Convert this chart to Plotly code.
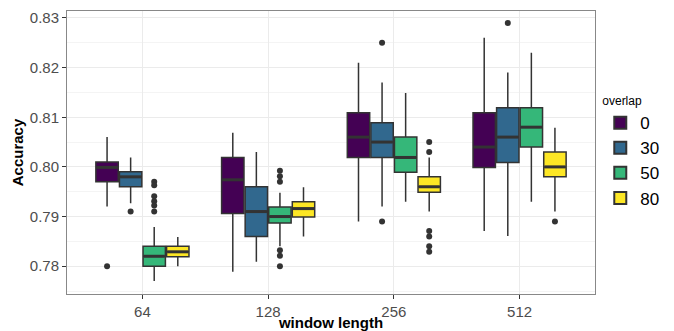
import plotly.graph_objects as go

groups = ["64", "128", "256", "512"]
overlaps = ["0", "30", "50", "80"]
colors = ["#440154", "#31688E", "#35B779", "#FDE725"]

# per overlap: values for groups 64,128,256,512
q1 = {
    "0":  [0.7970, 0.7906, 0.8019, 0.7999],
    "30": [0.7960, 0.7860, 0.8019, 0.8009],
    "50": [0.7800, 0.7887, 0.7989, 0.8040],
    "80": [0.7819, 0.7899, 0.7949, 0.7980],
}
median = {
    "0":  [0.7999, 0.7974, 0.8060, 0.8040],
    "30": [0.7980, 0.7910, 0.8050, 0.8060],
    "50": [0.7820, 0.7900, 0.8019, 0.8080],
    "80": [0.7829, 0.7916, 0.7960, 0.8000],
}
q3 = {
    "0":  [0.8010, 0.8019, 0.8109, 0.8109],
    "30": [0.7990, 0.7960, 0.8089, 0.8119],
    "50": [0.7840, 0.7919, 0.8060, 0.8119],
    "80": [0.7840, 0.7930, 0.7980, 0.8030],
}
lower = {
    "0":  [0.7920, 0.7789, 0.7890, 0.7871],
    "30": [0.7927, 0.7809, 0.7920, 0.7861],
    "50": [0.7770, 0.7840, 0.7930, 0.7930],
    "80": [0.7800, 0.7860, 0.7910, 0.7910],
}
upper = {
    "0":  [0.8060, 0.8069, 0.8210, 0.8260],
    "30": [0.8019, 0.8030, 0.8170, 0.8190],
    "50": [0.7879, 0.7948, 0.8149, 0.8230],
    "80": [0.7859, 0.7959, 0.8019, 0.8079],
}
# outliers: (group, overlap) -> values
outliers = {
    ("64", "0"): [0.780],
    ("64", "30"): [0.791],
    ("64", "50"): [0.7970, 0.7963, 0.7941, 0.7931, 0.7922, 0.7910],
    ("128", "50"): [0.7992, 0.7981, 0.7970, 0.7832, 0.7821, 0.7800],
    ("256", "30"): [0.825, 0.789],
    ("256", "80"): [0.805, 0.803, 0.7871, 0.7860, 0.7840, 0.7829],
    ("512", "30"): [0.829],
    ("512", "80"): [0.789],
}

dodge = 0.75
n = len(overlaps)
bw = dodge / n
box_w = bw * 0.95

fig = go.Figure()
for j, ov in enumerate(overlaps):
    off = (j - (n - 1) / 2) * bw
    xs = [i + 1 + off for i in range(len(groups))]
    fig.add_trace(go.Box(
        x=xs, q1=q1[ov], median=median[ov], q3=q3[ov],
        lowerfence=lower[ov], upperfence=upper[ov],
        name=ov, width=box_w, whiskerwidth=0,
        fillcolor=colors[j], line=dict(color="#333333", width=1.5),
        boxpoints=False, legendgroup=ov, showlegend=True,
    ))
    # thicker median bar (ggplot fatten)
    mx, my = [], []
    for i, x in enumerate(xs):
        mx += [x - box_w / 2 + 0.005, x + box_w / 2 - 0.005, None]
        my += [median[ov][i], median[ov][i], None]
    fig.add_trace(go.Scatter(
        x=mx, y=my, mode="lines", line=dict(color="#333333", width=3),
        showlegend=False, hoverinfo="skip",
    ))
for j, ov in enumerate(overlaps):
    off = (j - (n - 1) / 2) * bw
    ox, oy = [], []
    for i, g in enumerate(groups):
        vals = outliers.get((g, ov), [])
        ox += [i + 1 + off] * len(vals)
        oy += vals
    if oy:
        fig.add_trace(go.Scatter(
            x=ox, y=oy, mode="markers",
            marker=dict(color="#333333", size=6),
            showlegend=False, hoverinfo="y",
        ))

fig.update_layout(
    width=674, height=331,
    margin=dict(l=67, r=79, t=11, b=37, autoexpand=False),
    paper_bgcolor="white", plot_bgcolor="white",
    font=dict(family="Liberation Sans, Arial, sans-serif", color="#4d4d4d"),
    boxmode="overlay",
    legend=dict(
        title=dict(text="overlap", font=dict(size=12, color="black")),
        font=dict(size=17, color="black"),
        x=1.01, xanchor="left", y=0.5, yanchor="middle",
        tracegroupgap=0, itemsizing="constant",
    ),
)
fig.update_xaxes(
    range=[0.4, 4.6],
    tickmode="array", tickvals=[1, 2, 3, 4], ticktext=groups,
    showgrid=True, gridcolor="#ebebeb", gridwidth=1,
    ticks="outside", ticklen=4, tickcolor="#333333",
    tickfont=dict(size=15, color="#4d4d4d"),
    showline=True, linecolor="#888888", linewidth=1, mirror=True,
    zeroline=False, automargin=False,
    title=dict(text="<b>window length</b>", font=dict(size=15, color="black"), standoff=2),
)
fig.update_yaxes(
    range=[0.7744, 0.8314],
    tickvals=[0.78, 0.79, 0.80, 0.81, 0.82, 0.83],
    ticktext=["0.78", "0.79", "0.80", "0.81", "0.82", "0.83"],
    showgrid=True, gridcolor="#ebebeb", gridwidth=1,
    minor=dict(tickvals=[0.775, 0.785, 0.795, 0.805, 0.815, 0.825], showgrid=True,
               gridcolor="#f4f4f4", gridwidth=1),
    ticks="outside", ticklen=4, tickcolor="#333333",
    tickfont=dict(size=15, color="#4d4d4d"),
    showline=True, linecolor="#888888", linewidth=1, mirror=True,
    zeroline=False, automargin=False,
    title=dict(text="<b>Accuracy</b>", font=dict(size=15, color="black"), standoff=2),
)
fig.write_html("out.html", config={"displayModeBar": False},
               post_script="document.body.style.margin='0px';")
